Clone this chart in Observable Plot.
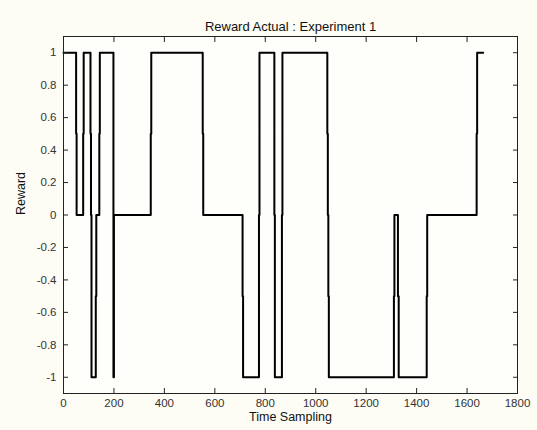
<!DOCTYPE html>
<html>
<head>
<meta charset="utf-8">
<script src="https://cdn.jsdelivr.net/npm/d3@7"></script>
<script src="https://cdn.jsdelivr.net/npm/@observablehq/plot@0.6"></script>
<style>
  html, body { margin: 0; padding: 0; background: #fdfdf6; }
  #chart svg { display: block; background: #fdfdf6; }
</style>
</head>
<body>
<div id="chart"></div>
<script>
// Change points of the reward signal (step-after), including the half-step samples seen at transitions
const times   = [0, 50, 52, 78, 80, 107, 109, 111, 128, 130, 142, 144, 198, 200, 346, 348, 552, 554, 710, 712, 775, 777, 836, 838, 866, 868, 1046, 1048, 1050, 1052, 1310, 1312, 1326, 1329, 1440, 1442, 1638, 1640, 1664];
const rewards = [1, 0.5, 0, 0.5, 1, 0.5, 0, -1, -0.5, 0, 0.5, 1, -1, 0, 0.5, 1, 0.5, 0, -0.5, -1, 0, 1, 0, -1, 0, 1, 0.5, 0, -0.5, -1, -0.5, 0, -0.5, -1, -0.5, 0, 0.5, 1, 1];

const xTicks = [0, 200, 400, 600, 800, 1000, 1200, 1400, 1600, 1800];
const yTicks = [-1, -0.8, -0.6, -0.4, -0.2, 0, 0.2, 0.4, 0.6, 0.8, 1];

const titleText = "Reward Actual : Experiment 1";
const xLabel = "Time Sampling";
const yLabel = "Reward";

const data = times.map((t, i) => ({t, r: rewards[i]}));
const fmtY = d => (Math.abs(d) < 1e-9 ? "0" : String(+d.toFixed(1)));

const chart = Plot.plot({
  width: 537,
  height: 430,
  marginLeft: 63,
  marginRight: 20,
  marginTop: 36,
  marginBottom: 37,
  style: {fontFamily: "Arial, 'Liberation Sans', sans-serif", fontSize: "11px", color: "#222", background: "#fdfdf6"},
  x: {domain: [0, 1800], label: null},
  y: {domain: [-1.1, 1.1], label: null},
  marks: [
    Plot.frame({fill: "white", fillOpacity: 0.6}),
    Plot.line(data, {x: "t", y: "r", curve: "step-after", stroke: "black", strokeWidth: 2}),
    Plot.frame({stroke: "#222", strokeWidth: 1}),
    // inward ticks on all four sides
    Plot.axisX({anchor: "bottom", ticks: xTicks, tickSize: -5, tickFormat: () => "", stroke: "#222"}),
    Plot.axisX({anchor: "top", ticks: xTicks, tickSize: -5, tickFormat: () => "", stroke: "#222"}),
    Plot.axisY({anchor: "left", ticks: yTicks, tickSize: -5, tickFormat: () => "", stroke: "#222"}),
    Plot.axisY({anchor: "right", ticks: yTicks, tickSize: -5, tickFormat: () => "", stroke: "#222"}),
    // tick labels
    Plot.axisX({anchor: "bottom", ticks: xTicks, tickSize: 0, tickPadding: 5, tickFormat: d => String(d), fontSize: 11.5, fill: "#333"}),
    Plot.axisY({anchor: "left", ticks: yTicks, tickSize: 0, tickPadding: 7, tickFormat: fmtY, fontSize: 11.5, fill: "#333"}),
    // title and axis labels
    Plot.text([titleText], {frameAnchor: "top", dy: -15, fontSize: 13, fill: "#111"}),
    Plot.text([xLabel], {frameAnchor: "bottom", dy: 27, fontSize: 12.5, fill: "#111"}),
    Plot.text([yLabel], {frameAnchor: "left", dx: -43, rotate: -90, fontSize: 12.5, fill: "#111"})
  ]
});
document.getElementById("chart").append(chart);
</script>
</body>
</html>
